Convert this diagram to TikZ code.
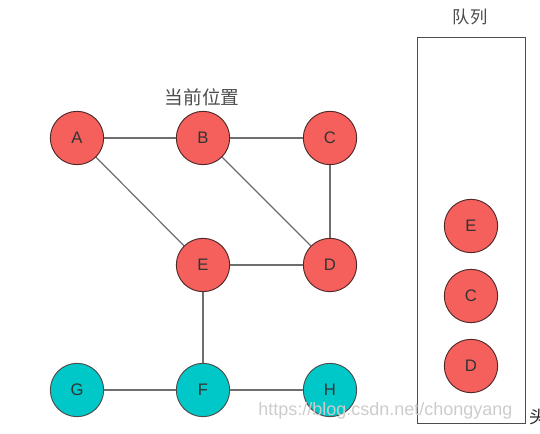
\documentclass[tikz,border=0pt]{standalone}
\usepackage{fontspec}
\setmainfont{Liberation Sans}
\newfontfamily\cjk{Noto Sans CJK SC}
\usepackage{tikz}
\usetikzlibrary{positioning,calc}
\definecolor{nodered}{RGB}{246,96,92}
\definecolor{nodecyan}{RGB}{0,200,200}
\definecolor{rimdark}{RGB}{80,40,40}
\definecolor{edgegray}{RGB}{110,110,110}

\begin{document}
\begin{tikzpicture}[x=0.75pt,y=-0.75pt,
                main node/.style={circle,draw=rimdark,line width=0.7pt,minimum size=40pt,inner sep=0pt,font=\fontsize{12.5}{14}\selectfont,text=black!80},
                red node/.style={main node,fill=nodered},
                cyan node/.style={main node,fill=nodecyan,draw=black!70},
                link/.style={draw=edgegray,line width=0.9pt}]
\useasboundingbox (0,0) rectangle (540,434);
%Nodes
    \node[red node] (A) at (77,138) {A};
    \node[red node] (B) at (203,138) {B};
    \node[red node] (C) at (330,138) {C};
    \node[red node] (E) at (203,265) {E};
    \node[red node] (D) at (330,265) {D};
    \node[cyan node] (G) at (77,390) {G};
    \node[cyan node] (F) at (203,390) {F};
    \node[cyan node] (H) at (330,390) {H};
    \node[font=\cjk\fontsize{14}{16}\selectfont,text=black!70] (pos) at (202,97) {当前位置};

%Queue
    \node[draw=black!70,line width=0.7pt,minimum width=81pt,minimum height=289pt,inner sep=0pt] (queue) at (471,230.5) {};
    \node[font=\cjk\fontsize{13}{15}\selectfont,text=black!70] (qlabel) at (470,17) {队列};
    \node[red node] (qE) at (471,226) {E};
    \node[red node] (qC) at (471,296) {C};
    \node[red node] (qD) at (471,366) {D};

%Edges
    \draw[link] (A) -- (B);
    \draw[link] (B) -- (C);
    \draw[link] (A) -- (E);
    \draw[link] (B) -- (D);
    \draw[link] (C) -- (D);
    \draw[link] (E) -- (D);
    \draw[link] (E) -- (F);
    \draw[link] (G) -- (F);
    \draw[link] (F) -- (H);

%Watermark
    \node[anchor=west,inner sep=0pt,font=\fontsize{13.5}{15}\selectfont,text=black!20] (mark) at (258,411) {https://blog.csdn.net/chongyang};
    \node[anchor=west,inner sep=0pt,font=\cjk\fontsize{13}{15}\selectfont,text=black!85] (cut) at (529,417) {头};
\end{tikzpicture}
\end{document}
